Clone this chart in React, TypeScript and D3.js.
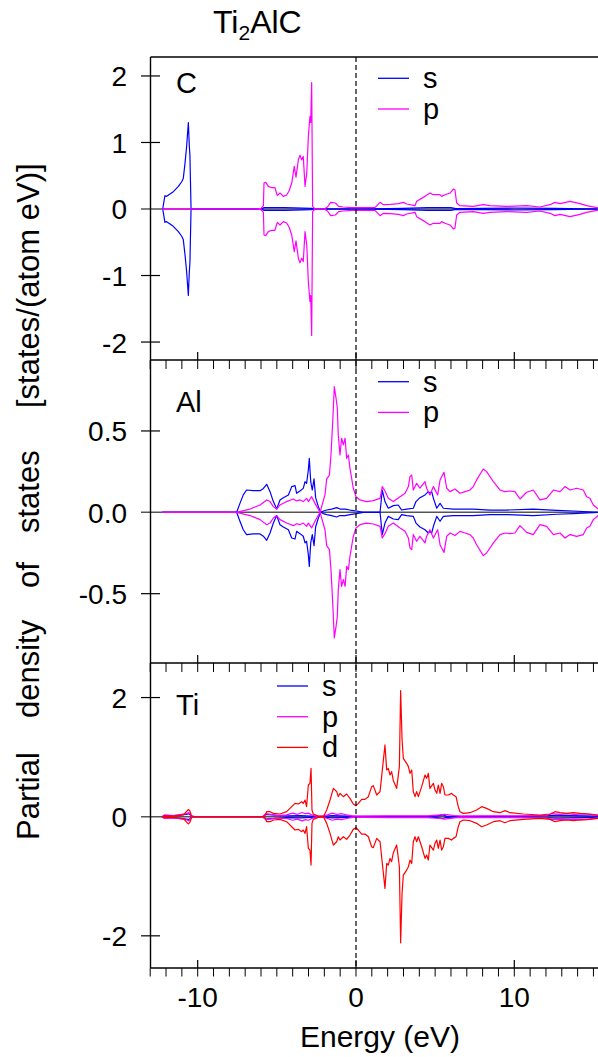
import React from "react";
import * as d3 from "d3";

type Pt = [number, number];

// ---------- data (positive spin channel; the negative channel is its mirror) ----------
const cS: Pt[] = [[-12.25,0],[-12.21,0],[-12.07,0.20],[-11.96,0.19],[-11.54,0.26],[-11.22,0.34],[-11.01,0.41],[-10.91,0.46],[-10.80,0.69],[-10.70,0.94],[-10.59,1.30],[-10.53,0.95],[-10.49,0.80],[-10.42,0],[-10.3,0],[-6,0],[-5.8,0.02],[-4.5,0.02],[-2.8,0.01],[-2.7,0],[0,0],[3,0.01],[4.5,0.02],[6,0.02],[6.3,0.005],[8,0.01],[10,0.015],[12.5,0.01],[15.3,0]];
const cP: Pt[] = [[-12.25,0],[-6.3,0],[-6.0,0.01],[-5.85,0.05],[-5.81,0.39],[-5.7,0.40],[-5.54,0.34],[-5.33,0.32],[-5.12,0.32],[-4.97,0.20],[-4.80,0.24],[-4.59,0.19],[-4.38,0.21],[-4.23,0.27],[-4.06,0.39],[-3.90,0.64],[-3.79,0.48],[-3.64,0.74],[-3.54,0.81],[-3.43,0.74],[-3.33,0.79],[-3.22,0.34],[-3.11,0.54],[-3.01,1.09],[-2.91,1.39],[-2.86,1.30],[-2.80,1.90],[-2.74,0.04],[-2.59,0],[-2.0,0],[-1.8,0.03],[-1.6,0.10],[-1.3,0.09],[-1.1,0.04],[-0.8,0.03],[-0.3,0.02],[0,0.02],[0.5,0.02],[1.2,0.02],[1.52,0.10],[1.73,0.065],[2.2,0.07],[2.67,0.08],[2.99,0.10],[3.20,0.075],[3.73,0.05],[3.83,0.115],[4.36,0.19],[4.67,0.24],[4.88,0.215],[5.31,0.215],[5.41,0.19],[5.62,0.215],[5.94,0.24],[6.15,0.30],[6.25,0.29],[6.36,0.09],[6.57,0.05],[7.41,0.04],[8.04,0.065],[8.46,0.05],[9.52,0.04],[10.78,0.05],[11.62,0.03],[12.26,0.065],[12.57,0.10],[12.89,0.08],[13.52,0.115],[14.15,0.08],[14.57,0.05],[15.3,0.015]];

const alS: Pt[] = [[-12.25,0],[-7.54,0],[-7.33,0.055],[-7.12,0.107],[-6.91,0.137],[-6.49,0.133],[-6.06,0.133],[-5.85,0.147],[-5.64,0.172],[-5.43,0.127],[-5.22,0.066],[-5.01,0.020],[-4.80,0.076],[-4.59,0.090],[-4.27,0.107],[-4.06,0.158],[-3.85,0.164],[-3.75,0.117],[-3.54,0.131],[-3.33,0.147],[-3.22,0.188],[-3.12,0.178],[-3.01,0.260],[-2.95,0.332],[-2.86,0.188],[-2.76,0.137],[-2.65,0.205],[-2.55,0.090],[-2.38,0.035],[-2.23,0],[-2.06,0.008],[-1.85,0.014],[-1.54,0.020],[-1.22,0.029],[-1.01,0.020],[-0.69,0.020],[-0.38,0.014],[0.04,0.008],[0.46,0],[1.52,0],[1.66,0.137],[1.83,0.066],[2.04,0.025],[2.36,0.041],[2.67,0.045],[2.88,0.014],[3.20,0.020],[3.62,0.025],[3.79,0.066],[4.04,0.090],[4.36,0.107],[4.57,0.127],[4.67,0.117],[4.78,0.127],[4.89,0.086],[5.10,0.025],[5.31,0.055],[5.52,0.025],[6.15,0.020],[7.41,0.020],[8.46,0.014],[9.52,0.014],[11.20,0.020],[12.68,0.012],[13.73,0.008],[15.3,0]];
const alP: Pt[] = [[-12.25,0],[-7.54,0],[-6.70,0.020],[-6.06,0.045],[-5.64,0.076],[-5.43,0.066],[-5.22,0.035],[-5.01,0.020],[-4.80,0.045],[-4.38,0.066],[-3.96,0.082],[-3.75,0.070],[-3.54,0.076],[-3.33,0.066],[-3.12,0.086],[-3.01,0.066],[-2.80,0.096],[-2.59,0.055],[-2.27,0],[-1.96,0.107],[-1.85,0.205],[-1.68,0.229],[-1.58,0.352],[-1.47,0.557],[-1.37,0.772],[-1.26,0.701],[-1.18,0.639],[-1.12,0.475],[-1.01,0.352],[-0.91,0.455],[-0.80,0.414],[-0.69,0.455],[-0.59,0.332],[-0.48,0.352],[-0.38,0.270],[-0.17,0.148],[0,0.096],[0.25,0.076],[0.67,0.066],[1.09,0.072],[1.52,0.086],[1.66,0.158],[1.83,0.131],[2.04,0.086],[2.36,0.066],[2.78,0.096],[3.10,0.117],[3.31,0.158],[3.41,0.219],[3.52,0.229],[3.62,0.137],[3.83,0.178],[4.04,0.148],[4.36,0.188],[4.46,0.148],[4.67,0.107],[4.89,0.158],[5.16,0.107],[5.31,0.199],[5.41,0.219],[5.56,0.246],[5.73,0.148],[5.94,0.127],[6.25,0.143],[6.57,0.117],[6.89,0.127],[7.20,0.137],[7.41,0.158],[7.62,0.199],[8.04,0.266],[8.25,0.250],[8.68,0.188],[9.10,0.137],[9.41,0.127],[9.73,0.131],[10.04,0.127],[10.36,0.082],[10.78,0.123],[11.20,0.137],[11.62,0.076],[12.04,0.086],[12.47,0.137],[12.89,0.127],[13.20,0.158],[13.52,0.137],[13.94,0.148],[14.36,0.137],[14.57,0.096],[14.78,0.086],[14.99,0.045],[15.3,0.020]];

const tiS: Pt[] = [[-12.25,0],[-12.1,0.02],[-11.5,0.02],[-10.7,0.04],[-10.55,0.05],[-10.4,0.01],[-10.2,0],[-5.9,0],[-5.7,0.04],[-5.3,0.03],[-4.8,0.02],[-4.3,0.015],[-3.5,0.02],[-2.8,0.01],[-2.4,0],[-1.5,0.02],[-1,0.015],[-0.5,0.01],[0,0.005],[3,0.005],[5,0.01],[5.5,0.03],[5.7,0.01],[7,0.005],[10,0.005],[12.3,0.02],[12.8,0.025],[13.5,0.02],[14.5,0.015],[15.3,0.01]];
const tiP: Pt[] = [[-12.25,0],[-12.1,0.03],[-11.5,0.02],[-10.7,0.05],[-10.55,0.07],[-10.4,0.01],[-10.2,0],[-5.9,0],[-5.7,0.05],[-5.4,0.04],[-5.0,0.02],[-4.4,0.03],[-4.0,0.06],[-3.7,0.04],[-3.4,0.07],[-3.2,0.05],[-3.0,0.06],[-2.8,0.03],[-2.5,0.01],[-2.1,0.01],[-1.8,0.03],[-1.5,0.06],[-1.2,0.04],[-0.9,0.05],[-0.6,0.03],[-0.2,0.01],[0.5,0.01],[2,0.015],[4.5,0.015],[5.3,0.03],[5.6,0.04],[6.2,0.02],[6.6,0.01],[8,0.015],[10,0.015],[12,0.02],[12.4,0.05],[12.9,0.04],[13.3,0.05],[13.8,0.04],[14.5,0.045],[15.3,0.02]];
const tiD: Pt[] = [[-12.25,0],[-12.17,0.01],[-11.5,0.01],[-10.9,0.03],[-10.7,0.09],[-10.59,0.12],[-10.5,0.10],[-10.38,0.01],[-10.2,0],[-5.9,0],[-5.75,0.02],[-5.64,0.084],[-5.43,0.084],[-5.22,0.056],[-4.80,0.045],[-4.38,0.084],[-4.06,0.168],[-3.85,0.224],[-3.64,0.213],[-3.43,0.252],[-3.33,0.224],[-3.22,0.28],[-3.12,0.168],[-3.01,0.532],[-2.91,0.56],[-2.84,0.812],[-2.78,0.112],[-2.70,0.045],[-2.38,0.011],[-2.06,0],[-1.85,0.112],[-1.64,0.28],[-1.43,0.476],[-1.22,0.42],[-1.12,0.336],[-1.01,0.392],[-0.80,0.336],[-0.59,0.381],[-0.38,0.308],[-0.17,0.213],[0,0.185],[0.15,0.224],[0.36,0.291],[0.57,0.291],[0.78,0.336],[0.99,0.504],[1.09,0.521],[1.31,0.364],[1.52,0.42],[1.73,0.952],[1.83,1.204],[1.94,0.784],[2.04,0.812],[2.15,0.70],[2.25,0.756],[2.36,0.605],[2.57,0.476],[2.74,0.84],[2.82,2.118],[2.91,1.289],[2.99,0.98],[3.20,0.896],[3.31,0.84],[3.41,0.728],[3.52,0.784],[3.62,0.42],[3.73,0.336],[3.83,0.42],[3.94,0.336],[4.15,0.504],[4.36,0.70],[4.46,0.644],[4.57,0.728],[4.67,0.476],[4.89,0.56],[4.99,0.448],[5.10,0.392],[5.20,0.532],[5.31,0.392],[5.41,0.56],[5.52,0.504],[5.62,0.364],[5.83,0.364],[6.04,0.392],[6.15,0.364],[6.32,0.336],[6.46,0.168],[6.57,0.084],[6.78,0.056],[7.20,0.067],[7.62,0.112],[7.94,0.168],[8.25,0.14],[8.68,0.084],[9.10,0.067],[9.41,0.101],[9.73,0.067],[10.57,0.045],[11.62,0.028],[12.26,0.045],[12.57,0.084],[12.89,0.067],[13.31,0.056],[13.73,0.067],[14.15,0.056],[14.78,0.045],[15.3,0.028]];

const cTicks = [2, 1, 0, -1, -2];
const alTicks = [0.5, 0, -0.5];
const tiTicks = [2, 0, -2];
const xMajor = [-10, 0, 10];
const xMinor = d3.range(-13, 16);
const yLabelWords = ["Partial", "density", "of", "states", "[states/(atom eV)]"];

const COLORS = { s: "#0000ff", p: "#ff00ff", d: "#ff0000" };
const FONT = "'Liberation Sans', Arial, Helvetica, sans-serif";

const hyph = (f: (v: number) => string) => (v: number) => f(v).replace("\u2212", "-");
const fmtInt = hyph(d3.format("d"));
const fmt1 = hyph(d3.format(".1f"));

const x = d3.scaleLinear().domain([-13, 15.3]).range([150.2, 598.2]);
const LEFT = 150.5;
const RIGHT = 598;

type Series = { name: "s" | "p" | "d"; data: Pt[] };
type PanelDef = {
  label: string;
  top: number;
  bottom: number;
  domain: [number, number];
  ticks: number[];
  fmt: (v: number) => string;
  series: Series[];
  legendX: number;
  legendY: number;
  labelBaseline: number;
};

const panels: PanelDef[] = [
  { label: "C", top: 57, bottom: 360, domain: [-2.27, 2.285], ticks: cTicks, fmt: fmtInt,
    series: [{ name: "s", data: cS }, { name: "p", data: cP }], legendX: 378, legendY: 78.3, labelBaseline: 93 },
  { label: "Al", top: 360, bottom: 663, domain: [-0.926, 0.936], ticks: alTicks, fmt: fmt1,
    series: [{ name: "s", data: alS }, { name: "p", data: alP }], legendX: 378, legendY: 381.7, labelBaseline: 411.7 },
  { label: "Ti", top: 663, bottom: 968, domain: [-2.54, 2.58], ticks: tiTicks, fmt: fmtInt,
    series: [{ name: "s", data: tiS }, { name: "p", data: tiP }, { name: "d", data: tiD }], legendX: 277, legendY: 686, labelBaseline: 715 },
];

function Panel({ p, idx }: { p: PanelDef; idx: number }) {
  const y = d3.scaleLinear().domain(p.domain).range([p.bottom, p.top]);
  const up = d3.line<Pt>().x((d) => x(d[0])).y((d) => y(d[1]));
  const down = d3.line<Pt>().x((d) => x(d[0])).y((d) => y(-d[1]));
  const clipId = `clip${idx}`;
  return (
    <g>
      <defs>
        <clipPath id={clipId}>
          <rect x={LEFT} y={p.top} width={RIGHT - LEFT + 2} height={p.bottom - p.top} />
        </clipPath>
      </defs>
      {/* zero line */}
      <line x1={141} x2={RIGHT} y1={y(0)} y2={y(0)} stroke="#555" strokeWidth={1.6} />
      <g clipPath={`url(#${clipId})`}>
        {p.series.map((s) => (
          <g key={s.name}>
            <path d={up(s.data) || ""} fill="none" stroke={COLORS[s.name]} strokeWidth={1.2} strokeLinejoin="round" />
            <path d={down(s.data) || ""} fill="none" stroke={COLORS[s.name]} strokeWidth={1.2} strokeLinejoin="round" />
          </g>
        ))}
      </g>
      {/* y ticks */}
      {p.ticks.map((t) => (
        <g key={t}>
          {t !== 0 && <line x1={141} x2={160} y1={y(t)} y2={y(t)} stroke="#000" strokeWidth={1.2} />}
          <text x={127} y={y(t) + 10.5} textAnchor="end" fontSize={28} fontFamily={FONT} fill="#000">
            {p.fmt(t)}
          </text>
        </g>
      ))}
      {/* bottom major ticks pointing inward */}
      {xMajor.map((t) => (
        <line key={`bm${t}`} x1={x(t)} x2={x(t)} y1={p.bottom} y2={p.bottom - 8} stroke="#000" strokeWidth={1.2} />
      ))}
      {/* top ticks (panels 2,3) pointing inward */}
      {idx > 0 &&
        xMinor.map((t) => (
          <line key={`tm${t}`} x1={x(t)} x2={x(t)} y1={p.top} y2={p.top + 9} stroke="#000" strokeWidth={1} />
        ))}
      {/* top border */}
      <line x1={LEFT} x2={RIGHT} y1={p.top} y2={p.top} stroke="#000" strokeWidth={1.4} />
      {/* panel label */}
      <text x={176} y={p.labelBaseline} fontSize={29} fontFamily={FONT} fill="#000">{p.label}</text>
      {/* legend */}
      {p.series.map((s, i) => (
        <g key={`lg${s.name}`}>
          <line x1={p.legendX} x2={p.legendX + 31} y1={p.legendY + i * 30.7} y2={p.legendY + i * 30.7}
            stroke={COLORS[s.name]} strokeWidth={1.3} />
          <text x={p.legendX + 45} y={p.legendY + i * 30.7 + 10} fontSize={29} fontFamily={FONT} fill="#000">{s.name}</text>
        </g>
      ))}
    </g>
  );
}

export default function App() {
  const bottom = panels[2].bottom;
  return (
    <svg width={598} height={1057} style={{ position: "absolute", left: 0, top: 0, background: "#fff" }}
      xmlns="http://www.w3.org/2000/svg">
      <rect width={598} height={1057} fill="#fff" />
      {/* title */}
      <text x={213} y={33} fontSize={32} fontFamily={FONT} fill="#000">
        Ti<tspan fontSize={21} dy={7}>2</tspan><tspan dy={-7}>AlC</tspan>
      </text>
      {panels.map((p, i) => <Panel key={p.label} p={p} idx={i} />)}
      {/* Fermi level */}
      <line x1={x(0)} x2={x(0)} y1={panels[0].top} y2={bottom} stroke="#000" strokeWidth={1.2} strokeDasharray="5,3" />
      {/* left spine */}
      <line x1={LEFT} x2={LEFT} y1={panels[0].top} y2={bottom} stroke="#000" strokeWidth={1.4} />
      {/* bottom axis */}
      <line x1={LEFT} x2={RIGHT} y1={bottom} y2={bottom} stroke="#000" strokeWidth={1.4} />
      {xMinor.map((t) => (
        <line key={`bx${t}`} x1={x(t)} x2={x(t)} y1={bottom} y2={bottom + 8.5} stroke="#000" strokeWidth={1} />
      ))}
      {xMajor.map((t) => (
        <text key={`bl${t}`} x={x(t)} y={1006.7} textAnchor="middle" fontSize={28} fontFamily={FONT} fill="#000">
          {fmtInt(t)}
        </text>
      ))}
      <text x={380} y={1047} textAnchor="middle" fontSize={30} fontFamily={FONT} fill="#000">Energy (eV)</text>
      {/* y label, words spread along the axis */}
      {yLabelWords.map((w, i) => {
        const starts = [840, 718, 588, 533, 408];
        return (
          <text key={w} transform={`translate(39,${starts[i]}) rotate(-90)`} fontSize={31} fontFamily={FONT} fill="#000">
            {w}
          </text>
        );
      })}
    </svg>
  );
}
